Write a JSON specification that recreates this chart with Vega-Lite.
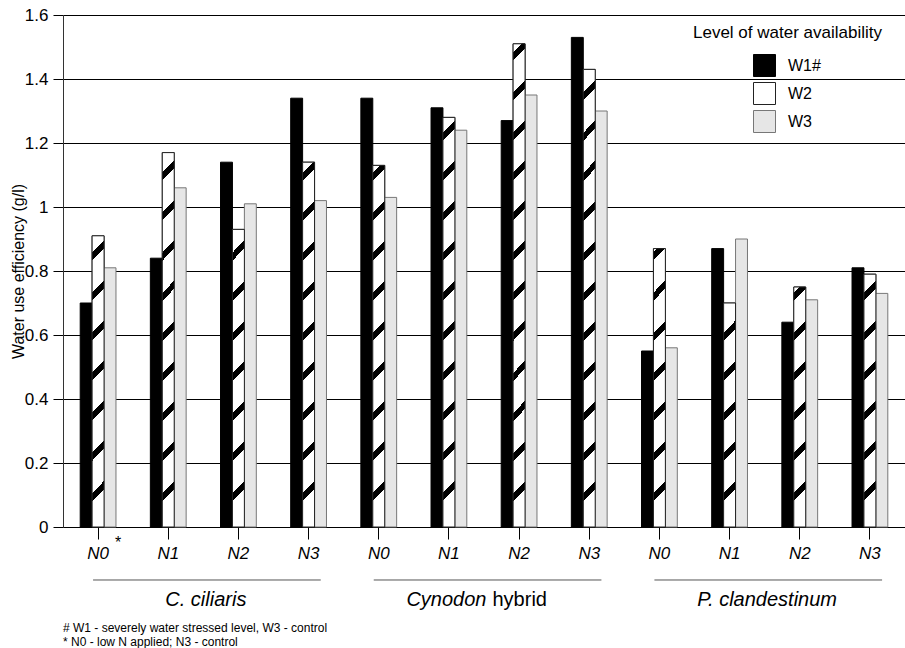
{
  "$schema": "https://vega.github.io/schema/vega-lite/v6.json",
  "width": 842,
  "height": 512,
  "autosize": {"type": "none"},
  "padding": {"left": 63, "top": 15, "right": 0, "bottom": 121},
  "background": "white",
  "config": {
    "font": "Liberation Sans",
    "view": {"stroke": null},
    "axis": {"labelColor": "black", "titleColor": "black", "labelFont": "Liberation Sans", "titleFont": "Liberation Sans"},
    "legend": {
      "titleLimit": 400,
      "titleFontSize": 17,
      "titleFontWeight": "normal",
      "titleColor": "black",
      "titleFont": "Liberation Sans",
      "titlePadding": 12,
      "labelFontSize": 16,
      "labelColor": "black",
      "labelFont": "Liberation Sans",
      "symbolType": "square",
      "symbolSize": 484,
      "symbolStrokeWidth": 1,
      "symbolOffset": 60,
      "labelOffset": 12,
      "rowPadding": 1
    }
  },
  "title": {
    "text": ["# W1 - severely water stressed level, W3 - control", "* N0 - low N applied; N3 - control"],
    "orient": "bottom",
    "anchor": "start",
    "frame": "group",
    "fontSize": 12,
    "fontWeight": "normal",
    "lineHeight": 14,
    "offset": 13,
    "color": "black",
    "font": "Liberation Sans"
  },
  "datasets": {
    "wue": [
      {"group": "C. ciliaris|N0", "species": "C. ciliaris", "n": "N0", "w": "W1", "wue": 0.70},
      {"group": "C. ciliaris|N0", "species": "C. ciliaris", "n": "N0", "w": "W2", "wue": 0.91},
      {"group": "C. ciliaris|N0", "species": "C. ciliaris", "n": "N0", "w": "W3", "wue": 0.81},
      {"group": "C. ciliaris|N1", "species": "C. ciliaris", "n": "N1", "w": "W1", "wue": 0.84},
      {"group": "C. ciliaris|N1", "species": "C. ciliaris", "n": "N1", "w": "W2", "wue": 1.17},
      {"group": "C. ciliaris|N1", "species": "C. ciliaris", "n": "N1", "w": "W3", "wue": 1.06},
      {"group": "C. ciliaris|N2", "species": "C. ciliaris", "n": "N2", "w": "W1", "wue": 1.14},
      {"group": "C. ciliaris|N2", "species": "C. ciliaris", "n": "N2", "w": "W2", "wue": 0.93},
      {"group": "C. ciliaris|N2", "species": "C. ciliaris", "n": "N2", "w": "W3", "wue": 1.01},
      {"group": "C. ciliaris|N3", "species": "C. ciliaris", "n": "N3", "w": "W1", "wue": 1.34},
      {"group": "C. ciliaris|N3", "species": "C. ciliaris", "n": "N3", "w": "W2", "wue": 1.14},
      {"group": "C. ciliaris|N3", "species": "C. ciliaris", "n": "N3", "w": "W3", "wue": 1.02},
      {"group": "Cynodon hybrid|N0", "species": "Cynodon hybrid", "n": "N0", "w": "W1", "wue": 1.34},
      {"group": "Cynodon hybrid|N0", "species": "Cynodon hybrid", "n": "N0", "w": "W2", "wue": 1.13},
      {"group": "Cynodon hybrid|N0", "species": "Cynodon hybrid", "n": "N0", "w": "W3", "wue": 1.03},
      {"group": "Cynodon hybrid|N1", "species": "Cynodon hybrid", "n": "N1", "w": "W1", "wue": 1.31},
      {"group": "Cynodon hybrid|N1", "species": "Cynodon hybrid", "n": "N1", "w": "W2", "wue": 1.28},
      {"group": "Cynodon hybrid|N1", "species": "Cynodon hybrid", "n": "N1", "w": "W3", "wue": 1.24},
      {"group": "Cynodon hybrid|N2", "species": "Cynodon hybrid", "n": "N2", "w": "W1", "wue": 1.27},
      {"group": "Cynodon hybrid|N2", "species": "Cynodon hybrid", "n": "N2", "w": "W2", "wue": 1.51},
      {"group": "Cynodon hybrid|N2", "species": "Cynodon hybrid", "n": "N2", "w": "W3", "wue": 1.35},
      {"group": "Cynodon hybrid|N3", "species": "Cynodon hybrid", "n": "N3", "w": "W1", "wue": 1.53},
      {"group": "Cynodon hybrid|N3", "species": "Cynodon hybrid", "n": "N3", "w": "W2", "wue": 1.43},
      {"group": "Cynodon hybrid|N3", "species": "Cynodon hybrid", "n": "N3", "w": "W3", "wue": 1.30},
      {"group": "P. clandestinum|N0", "species": "P. clandestinum", "n": "N0", "w": "W1", "wue": 0.55},
      {"group": "P. clandestinum|N0", "species": "P. clandestinum", "n": "N0", "w": "W2", "wue": 0.87},
      {"group": "P. clandestinum|N0", "species": "P. clandestinum", "n": "N0", "w": "W3", "wue": 0.56},
      {"group": "P. clandestinum|N1", "species": "P. clandestinum", "n": "N1", "w": "W1", "wue": 0.87},
      {"group": "P. clandestinum|N1", "species": "P. clandestinum", "n": "N1", "w": "W2", "wue": 0.70},
      {"group": "P. clandestinum|N1", "species": "P. clandestinum", "n": "N1", "w": "W3", "wue": 0.90},
      {"group": "P. clandestinum|N2", "species": "P. clandestinum", "n": "N2", "w": "W1", "wue": 0.64},
      {"group": "P. clandestinum|N2", "species": "P. clandestinum", "n": "N2", "w": "W2", "wue": 0.75},
      {"group": "P. clandestinum|N2", "species": "P. clandestinum", "n": "N2", "w": "W3", "wue": 0.71},
      {"group": "P. clandestinum|N3", "species": "P. clandestinum", "n": "N3", "w": "W1", "wue": 0.81},
      {"group": "P. clandestinum|N3", "species": "P. clandestinum", "n": "N3", "w": "W2", "wue": 0.79},
      {"group": "P. clandestinum|N3", "species": "P. clandestinum", "n": "N3", "w": "W3", "wue": 0.73}
    ],
    "spans": [
      {"first": "C. ciliaris|N0", "last": "C. ciliaris|N3"},
      {"first": "Cynodon hybrid|N0", "last": "Cynodon hybrid|N3"},
      {"first": "P. clandestinum|N0", "last": "P. clandestinum|N3"}
    ],
    "names": [
      {"mid": "C. ciliaris|N1", "name": "C. ciliaris"},
      {"mid": "P. clandestinum|N1", "name": "P. clandestinum"}
    ],
    "cyn": [{"mid": "Cynodon hybrid|N1", "name": "Cynodon"}],
    "hyb": [{"mid": "Cynodon hybrid|N1", "name": "hybrid"}],
    "star": [{"g": "C. ciliaris|N0", "t": "*"}]
  },
  "layer": [
    {
      "data": {"name": "wue"},
      "mark": {"type": "bar", "strokeWidth": 1},
      "encoding": {
        "x": {
          "field": "group", "type": "nominal",
          "scale": {
            "domain": ["C. ciliaris|N0", "C. ciliaris|N1", "C. ciliaris|N2", "C. ciliaris|N3",
                       "Cynodon hybrid|N0", "Cynodon hybrid|N1", "Cynodon hybrid|N2", "Cynodon hybrid|N3",
                       "P. clandestinum|N0", "P. clandestinum|N1", "P. clandestinum|N2", "P. clandestinum|N3"],
            "paddingInner": 0.49, "paddingOuter": 0.245
          },
          "axis": {
            "title": null,
            "labelExpr": "slice(datum.value, -2)",
            "labelFontStyle": "italic",
            "labelFontSize": 17,
            "labelAngle": 0,
            "labelPadding": 6,
            "tickSize": 12,
            "tickColor": "black",
            "domainColor": "black",
            "grid": false
          }
        },
        "xOffset": {"field": "w", "type": "nominal", "scale": {"domain": ["W1", "W2", "W3"], "paddingInner": 0, "paddingOuter": 0}},
        "y": {
          "field": "wue", "type": "quantitative",
          "scale": {"domain": [0, 1.6], "nice": false, "zero": true},
          "axis": {
            "title": "Water use efficiency (g/l)",
            "titleFontSize": 16,
            "titleFontWeight": "normal",
            "titleX": -45,
            "titleY": 256,
            "titleAngle": -90,
            "titleBaseline": "middle",
            "titleAlign": "center",
            "values": [0, 0.2, 0.4, 0.6, 0.8, 1, 1.2, 1.4, 1.6],
            "format": ".1~f",
            "labelFontSize": 17,
            "labelPadding": 5,
            "tickSize": 10,
            "tickColor": "black",
            "domainColor": "#333333",
            "grid": true,
            "gridColor": "black",
            "gridWidth": 1,
            "gridOpacity": 1
          }
        },
        "fill": {
          "field": "w", "type": "nominal",
          "scale": {"domain": ["W1", "W2", "W3"], "range": ["black", "white", "#e6e6e6"]},
          "legend": {
            "title": "Level of water availability",
            "orient": "none",
            "legendX": 630,
            "legendY": 10,
            "labelExpr": "datum.label == 'W1' ? 'W1#' : datum.label"
          }
        },
        "stroke": {
          "field": "w", "type": "nominal",
          "scale": {"domain": ["W1", "W2", "W3"], "range": ["black", "#222222", "#777777"]},
          "legend": {
            "title": "Level of water availability",
            "orient": "none",
            "legendX": 630,
            "legendY": 10,
            "labelExpr": "datum.label == 'W1' ? 'W1#' : datum.label"
          }
        }
      }
    },
    {
      "data": {"name": "wue"},
      "transform": [{"filter": "datum.w == 'W2'"}],
      "mark": {
        "type": "bar",
        "stroke": "#222222",
        "strokeWidth": 1,
        "fill": {"expr": "{gradient:'linear',x1:0,y1:1,x2:-12/(datum.wue*320),y2:0,stops:[{offset:min(1,26/(datum.wue*320)),color:'white'},{offset:min(1,26/(datum.wue*320)),color:'black'},{offset:min(1,34/(datum.wue*320)),color:'black'},{offset:min(1,34/(datum.wue*320)),color:'white'},{offset:min(1,66/(datum.wue*320)),color:'white'},{offset:min(1,66/(datum.wue*320)),color:'black'},{offset:min(1,74/(datum.wue*320)),color:'black'},{offset:min(1,74/(datum.wue*320)),color:'white'},{offset:min(1,106/(datum.wue*320)),color:'white'},{offset:min(1,106/(datum.wue*320)),color:'black'},{offset:min(1,114/(datum.wue*320)),color:'black'},{offset:min(1,114/(datum.wue*320)),color:'white'},{offset:min(1,146/(datum.wue*320)),color:'white'},{offset:min(1,146/(datum.wue*320)),color:'black'},{offset:min(1,154/(datum.wue*320)),color:'black'},{offset:min(1,154/(datum.wue*320)),color:'white'},{offset:min(1,186/(datum.wue*320)),color:'white'},{offset:min(1,186/(datum.wue*320)),color:'black'},{offset:min(1,194/(datum.wue*320)),color:'black'},{offset:min(1,194/(datum.wue*320)),color:'white'},{offset:min(1,226/(datum.wue*320)),color:'white'},{offset:min(1,226/(datum.wue*320)),color:'black'},{offset:min(1,234/(datum.wue*320)),color:'black'},{offset:min(1,234/(datum.wue*320)),color:'white'},{offset:min(1,266/(datum.wue*320)),color:'white'},{offset:min(1,266/(datum.wue*320)),color:'black'},{offset:min(1,274/(datum.wue*320)),color:'black'},{offset:min(1,274/(datum.wue*320)),color:'white'},{offset:min(1,306/(datum.wue*320)),color:'white'},{offset:min(1,306/(datum.wue*320)),color:'black'},{offset:min(1,314/(datum.wue*320)),color:'black'},{offset:min(1,314/(datum.wue*320)),color:'white'},{offset:min(1,346/(datum.wue*320)),color:'white'},{offset:min(1,346/(datum.wue*320)),color:'black'},{offset:min(1,354/(datum.wue*320)),color:'black'},{offset:min(1,354/(datum.wue*320)),color:'white'},{offset:min(1,386/(datum.wue*320)),color:'white'},{offset:min(1,386/(datum.wue*320)),color:'black'},{offset:min(1,394/(datum.wue*320)),color:'black'},{offset:min(1,394/(datum.wue*320)),color:'white'},{offset:min(1,426/(datum.wue*320)),color:'white'},{offset:min(1,426/(datum.wue*320)),color:'black'},{offset:min(1,434/(datum.wue*320)),color:'black'},{offset:min(1,434/(datum.wue*320)),color:'white'},{offset:min(1,466/(datum.wue*320)),color:'white'},{offset:min(1,466/(datum.wue*320)),color:'black'},{offset:min(1,474/(datum.wue*320)),color:'black'},{offset:min(1,474/(datum.wue*320)),color:'white'}]}"}
      },
      "encoding": {
        "x": {"field": "group", "type": "nominal"},
        "xOffset": {"field": "w", "type": "nominal"},
        "y": {"field": "wue", "type": "quantitative"}
      }
    },
    {
      "data": {"name": "spans"},
      "mark": {"type": "rule", "color": "#555555", "strokeWidth": 1},
      "encoding": {
        "x": {"field": "first", "type": "nominal", "bandPosition": 0.36},
        "x2": {"field": "last", "bandPosition": 0.84},
        "y": {"datum": -0.1656, "type": "quantitative"}
      }
    },
    {
      "data": {"name": "names"},
      "mark": {"type": "text", "fontSize": 20, "fontStyle": "italic", "align": "center", "baseline": "middle", "color": "black", "font": "Liberation Sans"},
      "encoding": {
        "x": {"field": "mid", "type": "nominal", "bandPosition": 1.55},
        "y": {"datum": -0.228, "type": "quantitative"},
        "text": {"field": "name"}
      }
    },
    {
      "data": {"name": "cyn"},
      "mark": {"type": "text", "fontSize": 20, "fontStyle": "italic", "align": "right", "baseline": "middle", "color": "black", "font": "Liberation Sans"},
      "encoding": {
        "x": {"field": "mid", "type": "nominal", "bandPosition": 1.55},
        "y": {"datum": -0.228, "type": "quantitative"},
        "text": {"field": "name"}
      }
    },
    {
      "data": {"name": "hyb"},
      "mark": {"type": "text", "fontSize": 20, "align": "left", "baseline": "middle", "dx": 6, "color": "black", "font": "Liberation Sans"},
      "encoding": {
        "x": {"field": "mid", "type": "nominal", "bandPosition": 1.55},
        "y": {"datum": -0.228, "type": "quantitative"},
        "text": {"field": "name"}
      }
    },
    {
      "data": {"name": "star"},
      "mark": {"type": "text", "fontSize": 16, "align": "center", "baseline": "middle", "color": "black", "font": "Liberation Sans"},
      "encoding": {
        "x": {"field": "g", "type": "nominal", "bandPosition": 1.06},
        "y": {"datum": -0.05, "type": "quantitative"},
        "text": {"field": "t"}
      }
    }
  ]
}
